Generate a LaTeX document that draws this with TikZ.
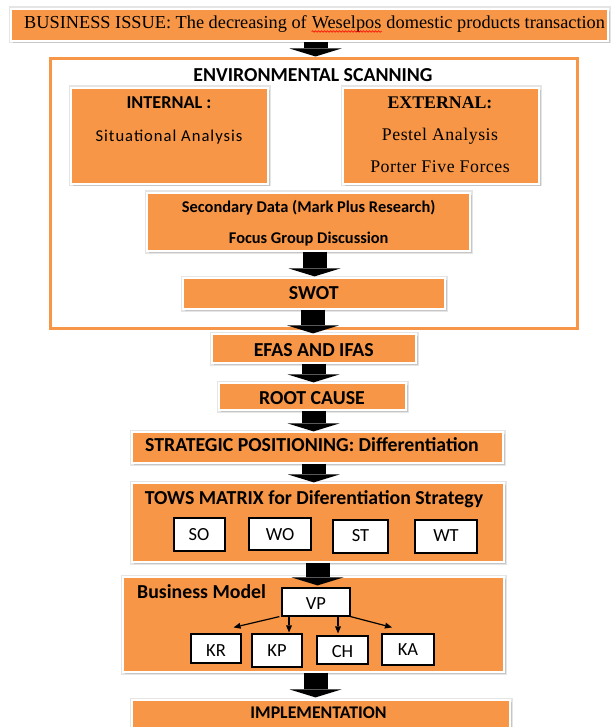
\documentclass[tikz,border=0pt]{standalone}
\usepackage{fontspec}
\setmainfont{Liberation Serif}
\newfontfamily\calibri{Carlito}
\newfontfamily\calibrisp[LetterSpace=6]{Carlito}
\newfontfamily\serifsp[LetterSpace=3]{Liberation Serif}
\usetikzlibrary{arrows.meta,shadows,decorations.pathmorphing}
\definecolor{accent}{HTML}{F79646}
\newcommand\setfs[1]{\fontsize{#1}{#1}\selectfont}

\tikzset{
  obox/.style={fill=accent, draw=white, line width=1.2pt, inner sep=0pt,
    preaction={draw=gray!20, line width=5pt},
    drop shadow={shadow xshift=1.5pt, shadow yshift=-2pt, fill=gray!45, opacity=1}},
  wbox/.style={fill=white, draw=black, line width=1.2pt, inner sep=0pt},
  frame/.style={draw=accent, fill=white, line width=3pt, inner sep=0pt},
  txt/.style={inner sep=0pt, anchor=base, text=black},
  hd/.style={txt, font=\calibri\bfseries\setfs{19.8}},
  sm/.style={txt, font=\calibri\setfs{18.5}},
  blockarrow/.style={line width=24pt, black,
    -{Triangle[width=52pt, length=8pt, line width=0pt]}},
  thinarrow/.style={line width=1.2pt, black,
    -{Triangle[width=6pt, length=7pt, line width=0pt]}}
}

\begin{document}
\begin{tikzpicture}[x=1pt, y=-1pt]
\useasboundingbox (0,0) rectangle (614,727);
\clip (0,0) rectangle (614,727);
\fill[white] (0,0) rectangle (614,727);

% business issue banner
\node[obox, minimum width=597pt, minimum height=32pt] (issue) at (309.5,25) {};
\node[txt, anchor=base west, font=\setfs{18.3}] (iss1) at (24,28.5) {BUSINESS ISSUE: The decreasing of};
\node[txt, anchor=base west, font=\setfs{18.3}] (iss2) at ([xshift=4.6pt]iss1.base east) {Weselpos};
\node[txt, anchor=base west, font=\setfs{18.3}] (iss3) at ([xshift=4.6pt]iss2.base east) {domestic products transaction};
\draw[red, line width=0.6pt, decorate, decoration={snake, amplitude=0.8pt, segment length=3pt}]
  ([yshift=-3pt]iss2.base west) -- ([yshift=-3pt]iss2.base east);

% environmental scanning frame
\node[frame, minimum width=527pt, minimum height=269pt] (env) at (313.5,193.5) {};
\node[hd] (envt) at (313,82) {ENVIRONMENTAL SCANNING};

\node[obox, minimum width=197pt, minimum height=96pt] (internal) at (169.5,136) {};
\node[txt, font=\calibri\bfseries\setfs{18.2}] (intt) at (169,108.6) {INTERNAL :};
\node[txt, font=\calibrisp\setfs{16.6}] (sit) at (169,142) {Situational Analysis};

\node[obox, minimum width=196pt, minimum height=96pt] (external) at (441,136) {};
\node[txt, font=\bfseries\setfs{17.8}] (extt) at (440,108.5) {EXTERNAL:};
\node[txt, font=\serifsp\setfs{17.8}] (pest) at (440,141) {Pestel Analysis};
\node[txt, font=\serifsp\setfs{17.8}] (porter) at (440,173) {Porter Five Forces};

\node[obox, minimum width=323pt, minimum height=58pt] (secondary) at (308.5,222) {};
\node[txt, font=\calibri\bfseries\setfs{16.4}] (sec1) at (308.7,212) {Secondary Data (Mark Plus Research)};
\node[txt, font=\calibri\bfseries\setfs{16.4}] (sec2) at (308.7,243.5) {Focus Group Discussion};

\node[obox, minimum width=262pt, minimum height=31pt] (swot) at (314,293.5) {};
\node[hd] (swott) at (313.8,299) {SWOT};

% main chain
\node[obox, minimum width=204pt, minimum height=29pt] (efas) at (314,348.5) {};
\node[hd] (efast) at (313.8,356) {EFAS AND IFAS};

\node[obox, minimum width=187pt, minimum height=27pt] (root) at (312.5,396.5) {};
\node[hd] (roott) at (312,404) {ROOT CAUSE};

\node[obox, minimum width=371pt, minimum height=31pt] (strat) at (317.5,447.5) {};
\node[hd] (stratt) at (312,451.7) {STRATEGIC POSITIONING: Differentiation};

\node[obox, minimum width=372pt, minimum height=79pt] (tows) at (318,522.5) {};
\node[hd] (towst) at (314,504) {TOWS MATRIX for Diferentiation Strategy};
\node[wbox, minimum width=51pt, minimum height=33pt] (so) at (199.5,534.5) {};
\node[wbox, minimum width=62pt, minimum height=32pt] (wo) at (280,534) {};
\node[wbox, minimum width=55pt, minimum height=33pt] (st) at (360.5,536.5) {};
\node[wbox, minimum width=62pt, minimum height=33pt] (wt) at (446,536.5) {};
\node[sm] (sot) at (199,540) {SO};
\node[sm] (wot) at (280,540) {WO};
\node[sm] (stt) at (360.5,541) {ST};
\node[sm] (wtt) at (446,541.7) {WT};

% business model
\node[obox, minimum width=381pt, minimum height=95pt] (bm) at (313.5,624.5) {};
\node[hd, anchor=base west] (bmt) at (137,598.3) {Business Model};
\node[wbox, minimum width=68pt, minimum height=28pt] (vp) at (316,602) {};
\node[wbox, minimum width=50pt, minimum height=29pt] (kr) at (216,648.5) {};
\node[wbox, minimum width=50pt, minimum height=33pt] (kp) at (277,650.5) {};
\node[wbox, minimum width=51pt, minimum height=28pt] (ch) at (342.5,650) {};
\node[wbox, minimum width=52pt, minimum height=31pt] (ka) at (408,649.5) {};
\node[sm] (vpt) at (316,609) {VP};
\node[sm] (krt) at (216,656) {KR};
\node[sm] (kpt) at (277,656) {KP};
\node[sm] (cht) at (342.5,657.3) {CH};
\node[sm] (kat) at (408,655.7) {KA};

\draw[thinarrow] ([xshift=-2pt]vp.south west) -- ([xshift=-8pt, yshift=6pt]kr.north east);
\draw[thinarrow, shorten >=1pt] ([xshift=-27pt]vp.south) -- ([xshift=12pt]kp.north);
\draw[thinarrow, shorten >=2pt] ([xshift=22pt]vp.south) -- ([xshift=-4.5pt]ch.north);
\draw[thinarrow] (vp.south east) -- ([xshift=-16pt, yshift=6pt]ka.north);

\node[obox, minimum width=378pt, minimum height=45pt] (impl) at (321,722.5) {};
\node[txt, font=\calibri\bfseries\setfs{17.8}] (implt) at (318.5,718) {IMPLEMENTATION};

% block arrows between stages
\draw[blockarrow] ([xshift=6pt]issue.south) -- ([xshift=2pt, yshift=1pt]env.north);
\draw[blockarrow, shorten >=1pt] ([xshift=6pt]secondary.south) -- ([xshift=0.5pt]swot.north);
\draw[blockarrow] ([xshift=-1pt]swot.south) -- ([xshift=-1pt]efas.north);
\draw[blockarrow] ([xshift=-0.5pt]efas.south) -- ([xshift=1pt]root.north);
\draw[blockarrow] ([xshift=1pt]root.south) -- ([xshift=-4pt]strat.north);
\draw[blockarrow] ([xshift=-3.7pt]strat.south) -- ([xshift=-4.2pt]tows.north);
\draw[blockarrow, shorten >=-9pt] ([xshift=-0.5pt]tows.south) -- ([xshift=4pt]bm.north);
\draw[blockarrow, shorten >=2pt] ([xshift=2pt]bm.south) -- ([xshift=-5.5pt]impl.north);
\end{tikzpicture}
\end{document}
